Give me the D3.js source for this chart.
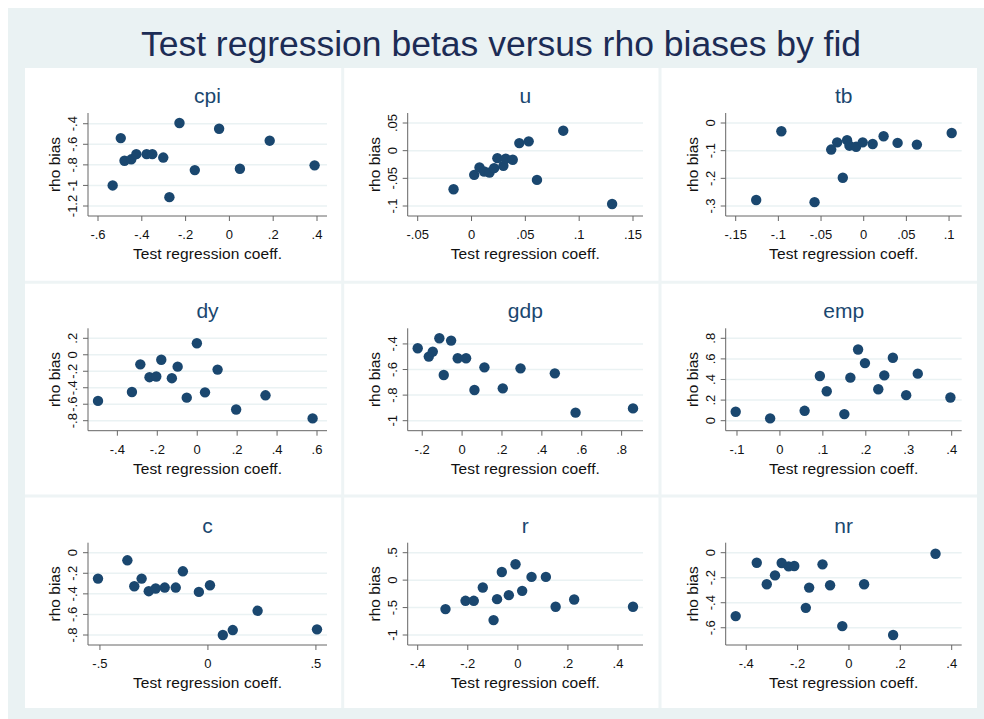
<!DOCTYPE html>
<html>
<head>
<meta charset="utf-8">
<script src="https://cdn.jsdelivr.net/npm/d3@7"></script>
<style>
  body { margin: 0; background: #fff; }
  svg { display: block; font-family: "Liberation Sans", Arial, Helvetica, sans-serif; }
</style>
</head>
<body>
<div id="chart"></div>
<script>
// values, one pair of arrays per fid
const fids = ["cpi", "u", "tb", "dy", "gdp", "emp", "c", "r", "nr"];

const cpiCoef = [-0.533, -0.496, -0.479, -0.448, -0.425, -0.378, -0.352, -0.302, -0.274, -0.228, -0.158, -0.047, 0.048, 0.184, 0.389];
const cpiBias = [-1.00, -0.54, -0.76, -0.746, -0.696, -0.696, -0.696, -0.729, -1.114, -0.393, -0.851, -0.449, -0.838, -0.565, -0.805];

const uCoef = [-0.0167, 0.0025, 0.0074, 0.0117, 0.0167, 0.021, 0.024, 0.0296, 0.0318, 0.0383, 0.0444, 0.0531, 0.0608, 0.0852, 0.1306];
const uBias = [-0.0697, -0.0437, -0.0304, -0.0377, -0.0395, -0.0316, -0.0135, -0.0274, -0.0147, -0.0165, 0.0137, 0.0168, -0.0528, 0.0361, -0.0964];

const tbCoef = [-0.126, -0.0965, -0.0576, -0.0381, -0.0311, -0.0245, -0.0195, -0.0167, -0.0089, -0.0012, 0.0105, 0.0233, 0.0397, 0.0623, 0.1031];
const tbBias = [-0.2785, -0.030, -0.286, -0.096, -0.070, -0.198, -0.062, -0.082, -0.086, -0.070, -0.076, -0.048, -0.072, -0.078, -0.036];

const dyCoef = [-0.497, -0.327, -0.285, -0.239, -0.205, -0.180, -0.127, -0.098, -0.0525, -0.0017, 0.039, 0.102, 0.195, 0.342, 0.578];
const dyBias = [-0.56, -0.452, -0.116, -0.272, -0.264, -0.06, -0.284, -0.144, -0.52, 0.14, -0.456, -0.18, -0.664, -0.492, -0.772];

const gdpCoef = [-0.2226, -0.167, -0.147, -0.114, -0.092, -0.055, -0.022, 0.020, 0.062, 0.112, 0.204, 0.293, 0.465, 0.569, 0.857];
const gdpBias = [-0.434, -0.499, -0.46, -0.356, -0.643, -0.374, -0.512, -0.512, -0.76, -0.583, -0.747, -0.591, -0.63, -0.937, -0.904];

const empCoef = [-0.103, -0.0228, 0.0575, 0.093, 0.109, 0.150, 0.164, 0.182, 0.198, 0.229, 0.243, 0.263, 0.294, 0.321, 0.397];
const empBias = [0.087, 0.0225, 0.096, 0.434, 0.286, 0.064, 0.418, 0.691, 0.559, 0.305, 0.44, 0.611, 0.248, 0.457, 0.225];

const cCoef = [-0.509, -0.373, -0.341, -0.307, -0.274, -0.242, -0.20, -0.149, -0.116, -0.042, 0.0094, 0.069, 0.115, 0.230, 0.505];
const cBias = [-0.252, -0.074, -0.326, -0.252, -0.374, -0.348, -0.339, -0.339, -0.181, -0.381, -0.316, -0.80, -0.752, -0.565, -0.745];

const rCoef = [-0.289, -0.209, -0.176, -0.14, -0.097, -0.083, -0.064, -0.036, -0.0093, 0.0173, 0.0547, 0.112, 0.151, 0.225, 0.46];
const rBias = [-0.528, -0.377, -0.377, -0.135, -0.728, -0.347, 0.149, -0.274, 0.289, -0.195, 0.059, 0.059, -0.486, -0.353, -0.486];

const nrCoef = [-0.441, -0.359, -0.32, -0.288, -0.262, -0.235, -0.213, -0.168, -0.155, -0.103, -0.0735, -0.026, 0.059, 0.172, 0.337];
const nrBias = [-0.507, -0.080, -0.252, -0.181, -0.082, -0.109, -0.106, -0.441, -0.279, -0.093, -0.260, -0.587, -0.252, -0.658, -0.008];

// tick values for each panel
const xTicks = [
  [-0.6, -0.4, -0.2, 0, 0.2, 0.4],
  [-0.05, 0, 0.05, 0.1, 0.15],
  [-0.15, -0.1, -0.05, 0, 0.05, 0.1],
  [-0.4, -0.2, 0, 0.2, 0.4, 0.6],
  [-0.2, 0, 0.2, 0.4, 0.6, 0.8],
  [-0.1, 0, 0.1, 0.2, 0.3, 0.4],
  [-0.5, 0, 0.5],
  [-0.4, -0.2, 0, 0.2, 0.4],
  [-0.4, -0.2, 0, 0.2, 0.4]
];
const yTicks = [
  [-1.2, -1, -0.8, -0.6, -0.4],
  [-0.1, -0.05, 0, 0.05],
  [-0.3, -0.2, -0.1, 0],
  [-0.8, -0.6, -0.4, -0.2, 0, 0.2],
  [-1, -0.8, -0.6, -0.4],
  [0, 0.2, 0.4, 0.6, 0.8],
  [-0.8, -0.6, -0.4, -0.2, 0],
  [-1, -0.5, 0, 0.5],
  [-0.6, -0.4, -0.2, 0]
];

const coefs = [cpiCoef, uCoef, tbCoef, dyCoef, gdpCoef, empCoef, cCoef, rCoef, nrCoef];
const biases = [cpiBias, uBias, tbBias, dyBias, gdpBias, empBias, cBias, rBias, nrBias];

const titleText = "Test regression betas versus rho biases by fid";
const xTitle = "Test regression coeff.";
const yTitle = "rho bias";

// layout
const W = 984, H = 719;
const colLeft = [88, 407.7, 725.7];
const colRight = [327, 643, 961.7];
const rowTop = [113, 328.3, 542.7];
const rowBottom = [216, 430.7, 645];
const inset = 10;

const navy = "#1a476f";
const bluish = "#eaf2f3";

// Stata style labels: .4, -.05, -1.2
const fmt = v => v === 0 ? "0" : String(v).replace("0.", ".");

// extend [lo, hi] so that it lands `inset` px inside the plot region
function padDomain(values, len) {
  const [lo, hi] = d3.extent(values);
  const k = (hi - lo) / (len - 2 * inset);
  return [lo - inset * k, hi + inset * k];
}

const svg = d3.select("#chart").append("svg")
    .attr("width", W)
    .attr("height", H);

// graph region and the white area behind the panels
svg.append("rect")
    .attr("x", 8).attr("y", 8)
    .attr("width", W - 8).attr("height", H - 8)
    .attr("fill", bluish);
svg.append("rect")
    .attr("x", 25).attr("y", 68)
    .attr("width", 952).attr("height", 640)
    .attr("fill", "#fff");

// faint separators between the sub graphs
[342.7, 660].forEach(x => svg.append("line")
    .attr("x1", x).attr("x2", x).attr("y1", 68).attr("y2", 708)
    .attr("stroke", "#eef4f5").attr("stroke-width", 3));
[282.3, 496].forEach(y => svg.append("line")
    .attr("x1", 25).attr("x2", 977).attr("y1", y).attr("y2", y)
    .attr("stroke", "#eef4f5").attr("stroke-width", 3));

svg.append("text")
    .attr("x", 501)
    .attr("y", 56)
    .attr("text-anchor", "middle")
    .attr("font-size", "35.5px")
    .attr("fill", "#1c2c55")
    .text(titleText);

fids.forEach((fid, i) => {
  const col = i % 3, row = Math.floor(i / 3);
  const L = colLeft[col], R = colRight[col];
  const T = rowTop[row], B = rowBottom[row];
  const data = coefs[i].map((c, j) => ({coef: c, bias: biases[i][j]}));

  const x = d3.scaleLinear()
      .domain(padDomain(coefs[i].concat(xTicks[i]), R - L))
      .range([L, R]);
  const y = d3.scaleLinear()
      .domain(padDomain(biases[i].concat(yTicks[i]), B - T))
      .range([B, T]);

  const g = svg.append("g").attr("class", "panel");

  // horizontal grid
  g.selectAll(".grid")
    .data(yTicks[i])
    .enter().append("line")
      .attr("class", "grid")
      .attr("x1", L).attr("x2", R)
      .attr("y1", d => y(d)).attr("y2", d => y(d))
      .attr("stroke", bluish)
      .attr("stroke-width", 1.5);

  // axes
  g.append("line")
      .attr("x1", L).attr("x2", L).attr("y1", T).attr("y2", B)
      .attr("stroke", "#666").attr("stroke-width", 1);
  g.append("line")
      .attr("x1", L).attr("x2", R).attr("y1", B).attr("y2", B)
      .attr("stroke", "#666").attr("stroke-width", 1);

  g.selectAll(".xtick")
    .data(xTicks[i])
    .enter().append("line")
      .attr("class", "xtick")
      .attr("x1", d => x(d)).attr("x2", d => x(d))
      .attr("y1", B).attr("y2", B + 5)
      .attr("stroke", "#666");
  g.selectAll(".xlabel")
    .data(xTicks[i])
    .enter().append("text")
      .attr("class", "xlabel")
      .attr("x", d => x(d))
      .attr("y", B + 23)
      .attr("text-anchor", "middle")
      .attr("font-size", "13px")
      .attr("fill", "#111")
      .text(fmt);

  g.selectAll(".ytick")
    .data(yTicks[i])
    .enter().append("line")
      .attr("class", "ytick")
      .attr("x1", L - 5).attr("x2", L)
      .attr("y1", d => y(d)).attr("y2", d => y(d))
      .attr("stroke", "#666");
  g.selectAll(".ylabel")
    .data(yTicks[i])
    .enter().append("text")
      .attr("class", "ylabel")
      .attr("transform", d => `translate(${L - 11},${y(d)}) rotate(-90)`)
      .attr("text-anchor", "middle")
      .attr("font-size", "13px")
      .attr("fill", "#111")
      .text(fmt);

  // axis titles
  g.append("text")
      .attr("x", (L + R) / 2)
      .attr("y", B + 43)
      .attr("text-anchor", "middle")
      .attr("font-size", "15.5px")
      .attr("letter-spacing", "0.1px")
      .attr("fill", "#111")
      .text(xTitle);
  g.append("text")
      .attr("transform", `translate(${L - 28},${(T + B) / 2}) rotate(-90)`)
      .attr("text-anchor", "middle")
      .attr("font-size", "15.5px")
      .attr("fill", "#111")
      .text(yTitle);

  // panel title
  g.append("text")
      .attr("x", (L + R) / 2)
      .attr("y", T - 10)
      .attr("text-anchor", "middle")
      .attr("font-size", "21px")
      .attr("fill", navy)
      .text(fid);

  // points
  g.selectAll(".dot")
    .data(data)
    .enter().append("circle")
      .attr("class", "dot")
      .attr("cx", d => x(d.coef))
      .attr("cy", d => y(d.bias))
      .attr("r", 5.2)
      .attr("fill", navy);
});
</script>
</body>
</html>
